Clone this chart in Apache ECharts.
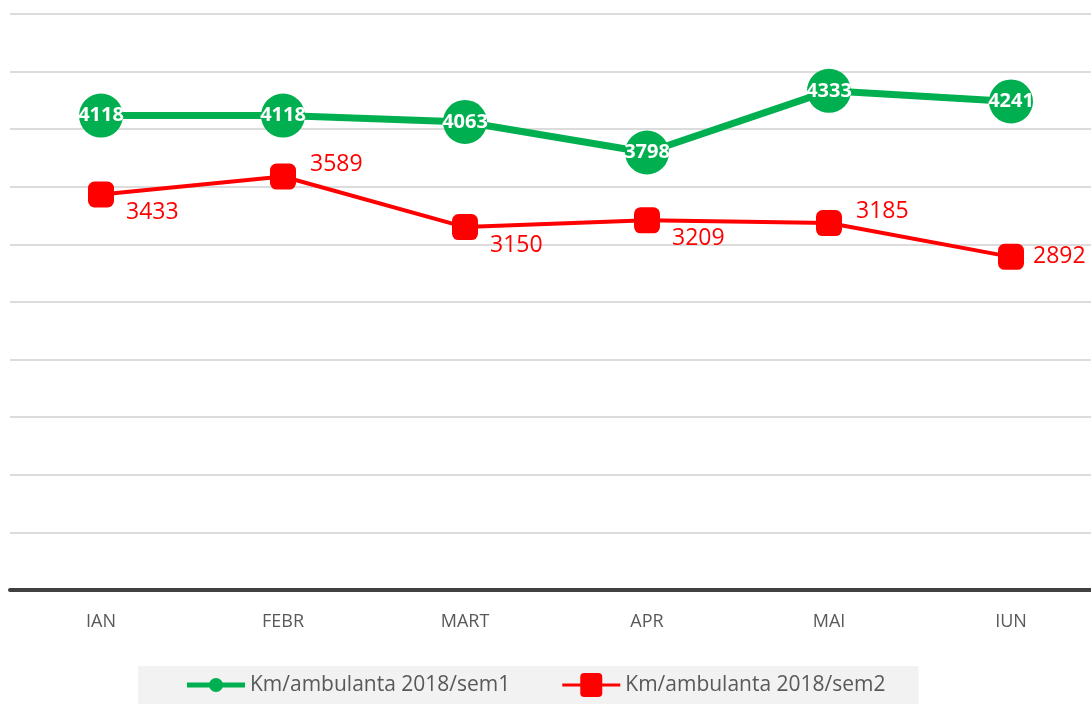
<!DOCTYPE html>
<html>
<head>
<meta charset="utf-8">
<script src="https://cdn.jsdelivr.net/npm/echarts@6/dist/echarts.min.js"></script>
<style>
  html, body { margin: 0; padding: 0; background: #fff; }
  #chart { width: 1091px; height: 704px; }
</style>
</head>
<body>
<div id="chart"></div>
<script>
// luni
const months = ['IAN', 'FEBR', 'MART', 'APR', 'MAI', 'IUN'];
// Km/ambulanta 2018/sem1
const sem1 = [4118, 4118, 4063, 3798, 4333, 4241];
// Km/ambulanta 2018/sem2
const sem2 = [3433, 3589, 3150, 3209, 3185, 2892];
// unde sta eticheta pentru fiecare punct din sem2
const sem2LabelPos = ['bottomRight', 'topRight', 'bottomRight', 'bottomRight', 'topRight', 'right'];

const fontFam = '"Open Sans", "Liberation Sans", sans-serif';

const labelPosMap = {
  bottomRight: { position: 'right', offset: [4, 18] },
  topRight: { position: 'right', offset: [6, -12] },
  right: { position: 'right', offset: [1, 0] },
};

// iconite legenda: linie + marker (cutie 58x24)
const greenIcon = 'path://M29,0 M29,24 M0,9.5 L58,9.5 L58,14.5 L0,14.5 Z ' +
  'M22,12 A7,7 0 1,1 36,12 A7,7 0 1,1 22,12 Z';
const redIcon = 'path://M0,10.5 L58,10.5 L58,13.5 L0,13.5 Z ' +
  'M22,0 L36,0 Q40,0 40,4 L40,20 Q40,24 36,24 L22,24 Q18,24 18,20 L18,4 Q18,0 22,0 Z';

const chart = echarts.init(document.getElementById('chart'));

chart.setOption({
  animation: false,
  textStyle: { fontFamily: fontFam },
  legend: {
    bottom: 0,
    left: 138,
    backgroundColor: '#f2f2f2',
    padding: [7, 33, 7, 49],
    itemWidth: 58,
    itemHeight: 24,
    itemGap: 52,
    textStyle: { fontSize: 21, color: '#595959', fontFamily: fontFam },
    data: [
      { name: 'Km/ambulanta 2018/sem1', icon: greenIcon, itemStyle: { color: '#00b050' } },
      { name: 'Km/ambulanta 2018/sem2', icon: redIcon, itemStyle: { color: '#ff0000' } },
    ],
  },
  grid: {
    left: 10,
    width: 1092,
    top: 14,
    bottom: 114,
    outerBoundsMode: 'none',
    containLabel: false,
  },
  xAxis: {
    type: 'category',
    data: months,
    boundaryGap: true,
    axisLine: { show: true, lineStyle: { color: '#404040', width: 4 } },
    axisTick: { show: false },
    axisLabel: { color: '#595959', fontSize: 18, margin: 23 },
  },
  yAxis: {
    type: 'value',
    min: 0,
    max: 5000,
    interval: 500,
    axisLine: { show: false },
    axisTick: { show: false },
    axisLabel: { show: false },
    splitLine: { lineStyle: { color: '#d0d0d0', width: 1.5 } },
  },
  series: [
    {
      name: 'Km/ambulanta 2018/sem1',
      type: 'line',
      data: sem1,
      symbol: 'circle',
      symbolSize: 44,
      itemStyle: { color: '#00b050' },
      lineStyle: { color: '#00b050', width: 7 },
      label: {
        show: true,
        position: 'inside',
        color: '#fff',
        fontWeight: 'bold',
        fontSize: 20,
      },
      z: 3,
    },
    {
      name: 'Km/ambulanta 2018/sem2',
      type: 'line',
      data: sem2.map((v, i) => ({
        value: v,
        label: labelPosMap[sem2LabelPos[i]],
      })),
      symbol: 'roundRect',
      symbolSize: 26,
      itemStyle: { color: '#ff0000' },
      lineStyle: { color: '#ff0000', width: 4 },
      label: {
        show: true,
        color: '#ff0000',
        fontSize: 23,
        distance: 8,
      },
      z: 2,
    },
  ],
});
</script>
</body>
</html>
